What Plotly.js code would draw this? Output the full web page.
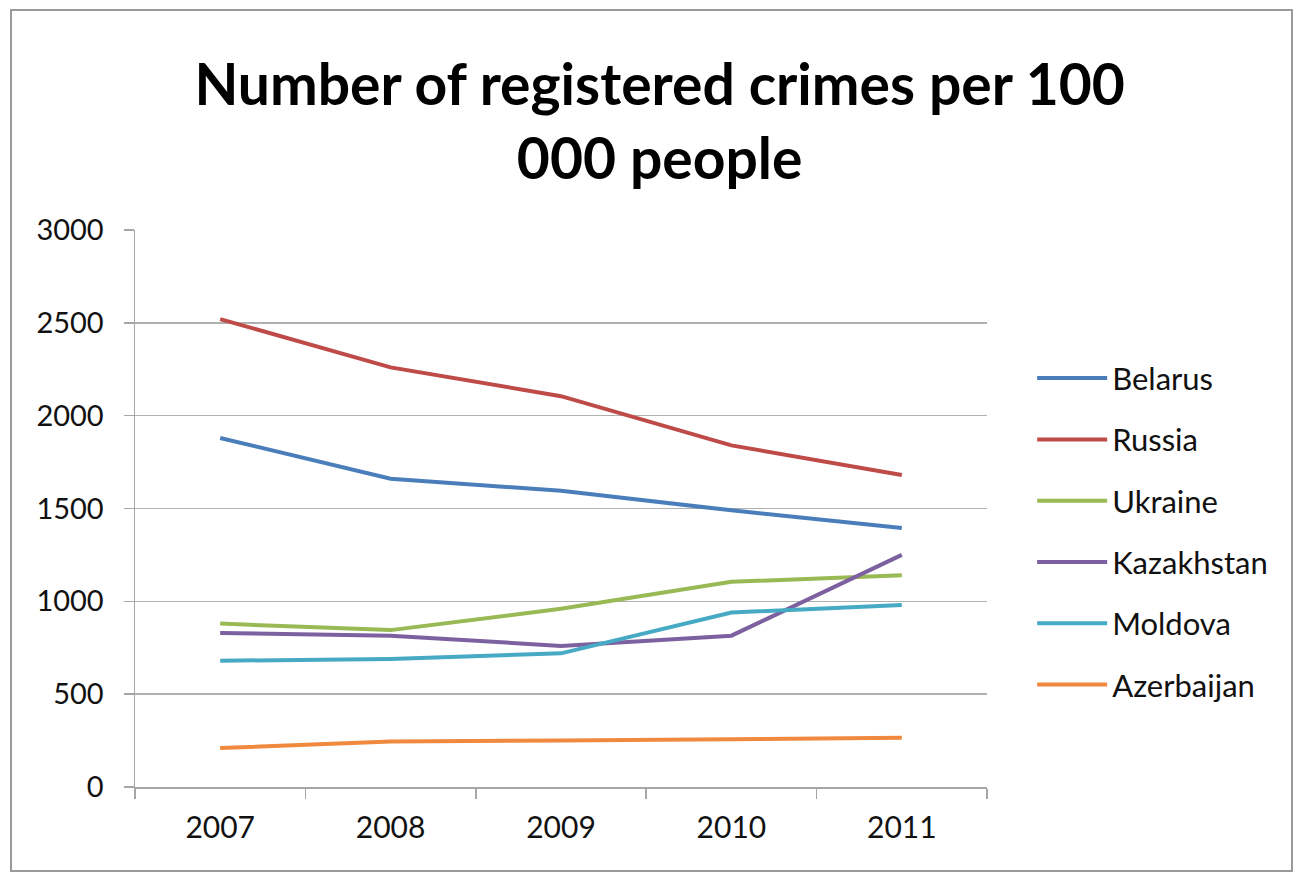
<!DOCTYPE html>
<html>
<head>
<meta charset="utf-8">
<script src="https://cdn.plot.ly/plotly-3.0.1.min.js"></script>
<style>html,body{margin:0;padding:0;background:#fff;}#chart{width:1296px;height:874px;}</style>
</head>
<body>
<div id="chart"></div>
<script>
const years = ['2007', '2008', '2009', '2010', '2011'];
const belarus = [1880, 1660, 1595, 1490, 1395];
const russia = [2520, 2260, 2105, 1840, 1680];
const ukraine = [880, 845, 960, 1105, 1140];
const kazakhstan = [830, 815, 760, 815, 1250];
const moldova = [680, 690, 720, 940, 980];
const azerbaijan = [210, 245, 250, 255, 265];
const yTicks = [0, 500, 1000, 1500, 2000, 2500, 3000];

const seriesNames = ['Belarus', 'Russia', 'Ukraine', 'Kazakhstan', 'Moldova', 'Azerbaijan'];
const seriesValues = [belarus, russia, ukraine, kazakhstan, moldova, azerbaijan];
const seriesColors = ['#4A7EBB', '#BE4B48', '#98B954', '#7D60A0', '#46AAC5', '#F0883E'];

const traces = seriesNames.map((n, i) => ({
  type: 'scatter', mode: 'lines', name: n, x: years, y: seriesValues[i],
  legendgroup: 'g' + i,
  line: {color: seriesColors[i], width: 4}
}));

const F = 'Lato, "Open Sans", sans-serif';
const layout = {
  width: 1296, height: 874,
  margin: {l: 135, r: 309, t: 230, b: 87},
  paper_bgcolor: '#ffffff', plot_bgcolor: '#ffffff',
  font: {family: F, color: '#000'},
  title: {
    text: '<b>Number of registered crimes per 100<br>000 people</b>',
    font: {family: F, size: 57, color: '#000'},
    xref: 'container', x: 0.509, xanchor: 'center',
    yref: 'container', y: 0.88, yanchor: 'top'
  },
  xaxis: {
    type: 'category', range: [-0.5, 4.5],
    showgrid: false, showline: true, linecolor: '#a6a6a6', linewidth: 1.5,
    ticks: 'outside', tickson: 'boundaries', ticklen: 10, tickcolor: '#a6a6a6', tickwidth: 1.5,
    tickfont: {family: F, size: 30, color: '#111'}, ticklabelstandoff: 13,
    zeroline: false
  },
  yaxis: {
    range: [0, 3000], tickvals: yTicks,
    showgrid: true, gridcolor: '#b0b0b0', gridwidth: 1.5,
    showline: true, linecolor: '#a6a6a6', linewidth: 1.5,
    ticks: 'outside', ticklen: 10, tickcolor: '#a6a6a6', tickwidth: 1.5,
    tickfont: {family: F, size: 29, color: '#111'}, ticklabelstandoff: 14,
    zeroline: false
  },
  legend: {
    x: 1.053, xanchor: 'left', y: 0.782, yanchor: 'top',
    font: {family: F, size: 31, color: '#111'},
    tracegroupgap: 18, itemwidth: 70,
    bgcolor: 'rgba(0,0,0,0)'
  },
  showlegend: true,
  shapes: [{
    type: 'rect', xref: 'paper', yref: 'paper',
    x0: (11 - 135) / 852, x1: (1292 - 135) / 852,
    y0: (787 - 871) / 557, y1: (787 - 10) / 557,
    line: {color: '#9a9a9a', width: 2}, fillcolor: 'rgba(0,0,0,0)', layer: 'below'
  }]
};

Plotly.newPlot('chart', traces, layout, {displayModeBar: false, staticPlot: true});
</script>
</body>
</html>
